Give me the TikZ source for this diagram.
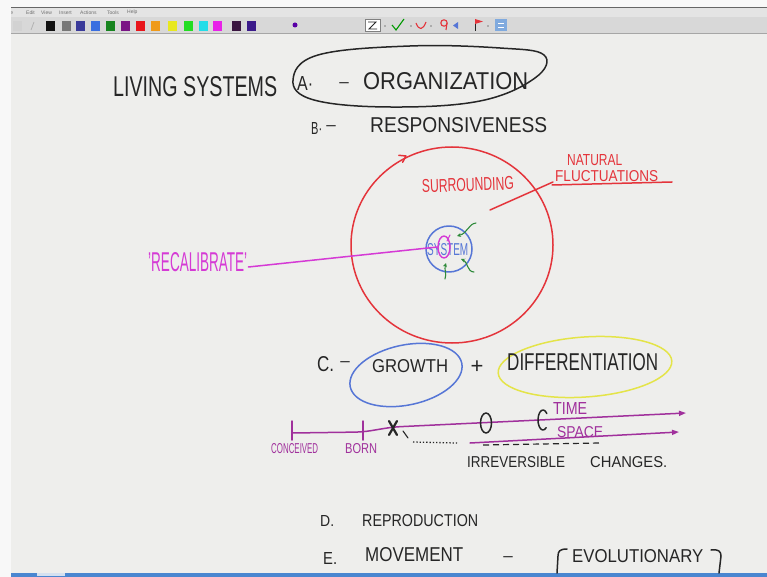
\documentclass[tikz,border=0pt]{standalone}
\usepackage{fontspec}
\setmainfont{Liberation Sans}
\usepackage{graphicx}
\usetikzlibrary{arrows.meta,shapes.geometric}
\definecolor{canvasbg}{HTML}{EEEEEC}
\definecolor{stripbg}{HTML}{F8F8F8}
\definecolor{menubg}{HTML}{E4E4E4}
\definecolor{toolbg}{HTML}{D8D8D8}
\definecolor{menutext}{HTML}{707070}
\definecolor{ink}{HTML}{262626}
\definecolor{penred}{HTML}{E4343B}
\definecolor{penmag}{HTML}{D53AD5}
\definecolor{penblue}{HTML}{5676D6}
\definecolor{pengreen}{HTML}{2E8A3A}
\definecolor{penyellow}{HTML}{E4E448}
\definecolor{penpurple}{HTML}{A0309C}
\definecolor{barblue}{HTML}{4A86D0}
\newcommand{\hwtext}[3]{\resizebox{#1pt}{#2pt}{#3}}
\begin{document}
\begin{tikzpicture}[x=1pt,y=-1pt,
  hw/.style={inner sep=0pt, anchor=south west},
  pen/.style={line width=1.5pt, line cap=round, line join=round},
  thinpen/.style={line width=1.1pt, line cap=round, line join=round},
  menu/.style={inner sep=0pt, anchor=south west, font=\fontsize{5}{5}\selectfont, text=menutext},
  dashmark/.style={inner sep=0pt, font=\fontsize{17}{17}\selectfont, text=ink},
  tltip/.style={-{Triangle[length=7pt,width=5pt]}},
]
\useasboundingbox (0,0) rectangle (767,577);
% backgrounds
\fill[canvasbg] (0,0) rectangle (767,577);
\fill[menubg] (0,7) rectangle (767,17);
\fill[toolbg] (0,17) rectangle (767,33);
\draw[gray!80!black, line width=0.8pt] (0,7.4) -- (767,7.4);
\draw[gray!70, line width=0.8pt] (0,33) -- (767,33);
% menu words
\node[menu] (mfile) at (5,14.5) {File};
\node[menu] (medit) at (26,14.5) {Edit};
\node[menu] (mview) at (41,14.5) {View};
\node[menu] (mins) at (59,14.5) {Insert};
\node[menu] (mact) at (80,14.5) {Actions};
\node[menu] (mtools) at (107,14.5) {Tools};
\node[menu] (mhelp) at (127,14.5) {Help};
% toolbar
\fill[gray!35] (13,21) rectangle (22,31);
\draw[gray!60, line width=0.8pt] (31,30) -- (34,22);
\foreach \sx/\sc in {46/111111,62/777777,76/3B3B9A,91/3A6FE0,106/17841F,121/7A1585,136/E8151B,151/EF9A1A,168/E8E820,184/22DD22,199/22DDE8,213/E822E8,232/3A1540,247/3B1A8A}{
  \definecolor{swatch}{HTML}{\sc}
  \fill[swatch] (\sx,21) rectangle ++(9,10);
}
\fill[violet!70!blue] (295,25) circle (2.5);
\fill[white] (365,19) rectangle (380,31);
\draw[gray, line width=0.6pt] (365,19) rectangle (380,31);
\draw[ink, line width=0.8pt] (368,22) -- (376,22) -- (369,29) -- (377,29);
\foreach \dx in {385,411,431,488}{ \fill[gray] (\dx,26) circle (0.9); }
\draw[green!60!black, line width=1.1pt] (392,25) -- (396,30) -- (404,19);
\draw[penred, line width=1.1pt] (416,23) .. controls (419,31) and (423,30) .. (426,22);
\draw[penred, line width=1.1pt] (444,23) circle (3.2);
\draw[penred, line width=1.1pt] (447,23) -- (446,30);
\fill[penblue] (458,22) -- (453,25.5) -- (458,29) -- cycle;
\draw[ink, line width=0.7pt] (475,31) -- (475,19);
\fill[penred] (475,19) -- (483,21.5) -- (475,24) -- cycle;
\fill[barblue!70] (495,19) rectangle (507,31);
\draw[white, line width=0.8pt] (498,23) -- (504,23) (498,27) -- (504,27);
% white margins
\fill[stripbg] (0,0) rectangle (767,7);
\fill[stripbg] (0,0) rectangle (11,577);
% bottom bar
\fill[barblue] (11,573) rectangle (767,577);
\fill[stripbg!80!barblue] (37,573) rectangle (65,575.5);

% ===== A =====
\node[hw, text=ink] (living) at (113,97) {\hwtext{164}{20}{LIVING SYSTEMS}};
\draw[pen, ink] plot[smooth cycle, tension=0.65] coordinates {(293,80) (318,55) (410,46) (500,48) (544,55) (535,78) (480,101) (390,107) (314,100)};
\node[hw, text=ink] (alab) at (297,91) {\hwtext{16}{14}{A·}};
\node[dashmark] (adash) at (344,85) {–};
\node[hw, text=ink] (organ) at (363,90) {\hwtext{165}{17}{ORGANIZATION}};
% ===== B =====
\node[hw, text=ink] (blab) at (311,135) {\hwtext{11}{12}{B·}};
\node[dashmark] (bdash) at (331,128) {–};
\node[hw, text=ink] (respon) at (370,133) {\hwtext{177}{15}{RESPONSIVENESS}};
% surrounding circle
\draw[pen, penred] (452,245) ellipse [x radius=101, y radius=98];
\draw[pen, penred] (402.6,162.3) -- (406,156) -- (398.8,155.3);
\node[hw, text=penred, rotate=2] (surr) at (422,193) {\hwtext{92}{13}{SURROUNDING}};
\node[hw, text=penred] (natural) at (567,166) {\hwtext{55}{11}{NATURAL}};
\node[hw, text=penred] (fluct) at (555,182) {\hwtext{103}{11}{FLUCTUATIONS}};
\draw[pen, penred] (552,185) -- (672,182);
\coordinate (surrpt) at (490,210);
\draw[pen, penred] (surrpt) -- ([xshift=-2pt]fluct.south west);
% system
\draw[pen, penblue] (449,249) circle (23);
\node[hw, text=penblue] (system) at (427,256) {\hwtext{41}{12}{SYSTEM}};
\node[draw=penmag, line width=1.4pt, ellipse, minimum width=12pt, minimum height=22pt, inner sep=0pt] (oval) at (444,247) {};
\draw[thinpen, penmag] (447,241) -- (450,235);
\draw[thinpen, pengreen, -{Stealth[length=4pt,width=4pt]}] (476,223) .. controls (468,224) and (468,233) .. (457,236);
\draw[thinpen, pengreen, -{Stealth[length=4pt,width=4pt]}] (474,272) .. controls (467,272) and (468,262) .. (461,259);
\draw[thinpen, pengreen, -{Stealth[length=4pt,width=4pt]}] (445,279) .. controls (447,273) and (444,270) .. (446,263);
% recalibrate
\node[hw, text=penmag] (recal) at (148,272) {\hwtext{99}{19}{'RECALIBRATE'}};
\draw[pen, penmag] ([xshift=1pt,yshift=5pt]recal.south east) -- (oval.west);

% ===== C =====
\node[hw, text=ink] (clab) at (317,372) {\hwtext{17}{15}{C.}};
\node[dashmark] (cdash) at (345,364) {–};
\draw[pen, penblue, rotate around={12:(406,375)}] (406,375) ellipse [x radius=57, y radius=30];
\node[hw, text=ink] (growth) at (372,373) {\hwtext{76}{13}{GROWTH}};
\node[inner sep=0pt, font=\fontsize{22}{22}\selectfont, text=ink] (plus) at (477,367) {+};
\draw[pen, penyellow, rotate around={4:(585,367)}] (585,367) ellipse [x radius=87, y radius=30];
\node[hw, text=ink] (diff) at (507,371) {\hwtext{151}{17}{DIFFERENTIATION}};
% timeline
\coordinate (t0) at (292,433);
\coordinate (tb) at (363,432);
\coordinate (tx) at (393,427);
\coordinate (tend) at (686,413);
\draw[pen, penpurple, tltip, rounded corners=8pt] (t0) -- (tb) -- (tx) -- (tend);
\draw[pen, penpurple] (292,421) -- (292,440);
\draw[pen, penpurple] (363,421) -- (363,440);
\coordinate (s0) at (470,443);
\coordinate (send) at (679,432);
\draw[pen, penpurple, tltip] (s0) -- (send);
\draw[line width=2.2pt, ink, line cap=round] (389,421) -- (397,435) (397,421) -- (389,435);
\draw[thinpen, ink] (403,431) -- (408,438);
\draw[line width=1.3pt, ink, dotted] (413,442) -- (457,443);
\draw[line width=1.2pt, ink, dash pattern=on 6pt off 4pt] (483,445) -- (600,443);
\draw[pen, ink] (486,423) ellipse [x radius=5.5, y radius=10];
\draw[pen, ink] ([shift={(543,420)}]50:5 and 10) arc [start angle=50, end angle=320, x radius=5, y radius=10];
\node[hw, text=penpurple] (time) at (553,415) {\hwtext{34}{12}{TIME}};
\node[hw, text=penpurple] (space) at (557,438) {\hwtext{46}{11}{SPACE}};
\node[hw, text=penpurple] (conc) at (271,454) {\hwtext{47}{10}{CONCEIVED}};
\node[hw, text=penpurple] (born) at (345,454) {\hwtext{32}{10}{BORN}};
\node[hw, text=ink] (irrev) at (467,468) {\hwtext{98}{11}{IRREVERSIBLE}};
\node[hw, text=ink] (chg) at (590,468) {\hwtext{77}{11}{CHANGES.}};

% ===== D, E =====
\node[hw, text=ink] (dlab) at (320,527) {\hwtext{14}{11}{D.}};
\node[hw, text=ink] (repro) at (362,527) {\hwtext{116}{12}{REPRODUCTION}};
\node[hw, text=ink] (elab) at (323,565) {\hwtext{14}{12}{E.}};
\node[hw, text=ink] (move) at (365,562) {\hwtext{98}{14}{MOVEMENT}};
\node[dashmark] (edash) at (508,559) {–};
\draw[pen, ink] (567,549) .. controls (560,549) and (558,551) .. (558,556) -- (557,573);
\node[hw, text=ink] (evol) at (572,563) {\hwtext{131}{13}{EVOLUTIONARY}};
\draw[pen, ink] (711,550) .. controls (718,549) and (721,551) .. (721,556) -- (719,573);
\end{tikzpicture}
\end{document}
